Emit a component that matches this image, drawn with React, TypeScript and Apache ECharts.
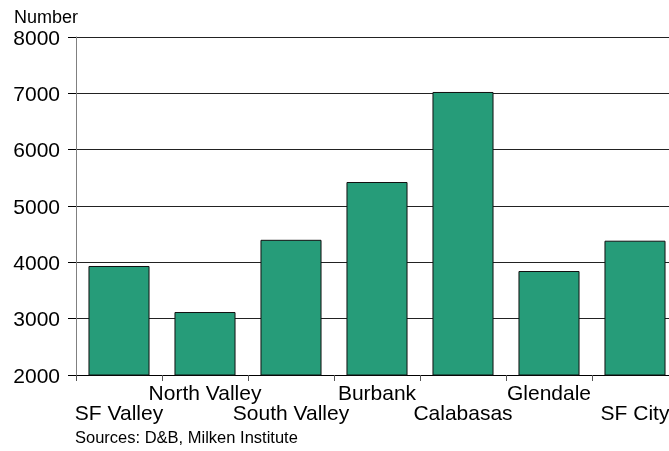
import React, { useEffect, useRef } from "react";
import * as echarts from "echarts";

const categories = ["SF Valley", "North Valley", "South Valley", "Burbank", "Calabasas", "Glendale", "SF City"];
const values = [3935, 3118, 4400, 5426, 7024, 3846, 4384];
const yTicks = { min: 2000, max: 8000, interval: 1000 };
const axisTitle = "Number";
const sourceNote = "Sources: D&B, Milken Institute";

export default function App() {
  const ref = useRef<HTMLDivElement>(null);
  useEffect(() => {
    const chart = echarts.init(ref.current!, null, { renderer: "svg" });
    const font = "'Liberation Sans', Arial, sans-serif";
    chart.setOption({
      animation: false,
      grid: { left: 76, top: 37, width: 602, height: 338 },
      xAxis: {
        type: "category",
        data: categories,
        axisLine: { lineStyle: { color: "#000", width: 1 } },
        axisTick: { show: true, length: 6, lineStyle: { color: "#555" } },
        axisLabel: {
          interval: 0,
          color: "#000",
          fontFamily: font,
          fontSize: 21,
          lineHeight: 20,
          margin: 7,
          formatter: (v: string, i: number) => (i % 2 === 0 ? "\n" + v : v),
        },
      },
      yAxis: {
        type: "value",
        min: yTicks.min,
        max: yTicks.max,
        interval: yTicks.interval,
        axisLine: { show: true, lineStyle: { color: "#808080", width: 1 } },
        axisTick: { show: true, length: 8, lineStyle: { color: "#000" } },
        axisLabel: { color: "#000", fontFamily: font, fontSize: 21, margin: 16, formatter: (v: number) => String(v) },
        splitLine: { show: true, lineStyle: { color: "#222", width: 1 } },
      },
      series: [
        {
          type: "bar",
          data: values,
          barCategoryGap: "29%",
          itemStyle: { color: "#269C79", borderColor: "#111", borderWidth: 1 },
        },
      ],
      graphic: [
        { type: "text", left: 14, top: 8, style: { text: axisTitle, font: `18px ${font}`, fill: "#000" } },
        { type: "text", left: 75, top: 428, style: { text: sourceNote, font: `16.5px ${font}`, fill: "#000" } },
      ],
    });
    return () => chart.dispose();
  }, []);
  return (
    <div style={{ position: "fixed", left: 0, top: 0, width: 669, height: 451, overflow: "hidden" }}>
      <div ref={ref} style={{ width: 700, height: 451 }} />
    </div>
  );
}
